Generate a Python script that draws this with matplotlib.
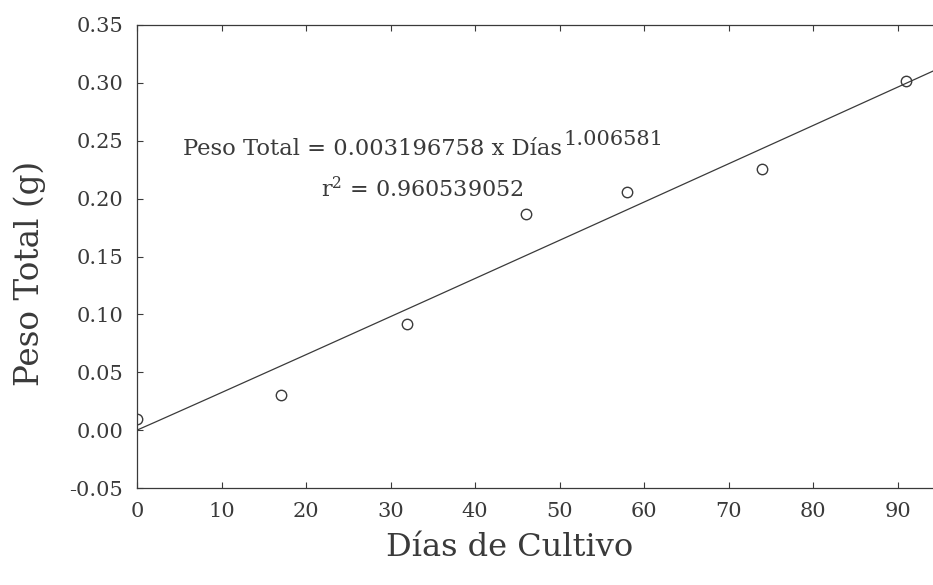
import numpy as np
import matplotlib
matplotlib.use("Agg")
import matplotlib.pyplot as plt

# data
dias = [0, 17, 32, 46, 58, 74, 91]
peso = [0.010, 0.030, 0.092, 0.187, 0.206, 0.226, 0.302]

# fitted power model shown on the chart
coef_a = 0.003196758
coef_b = 1.006581
r2 = 0.960539052

xticks = [0, 10, 20, 30, 40, 50, 60, 70, 80, 90]
yticks = [-0.05, 0.00, 0.05, 0.10, 0.15, 0.20, 0.25, 0.30, 0.35]

plt.rcParams['font.family'] = ['DejaVu Serif']
plt.rcParams['mathtext.fontset'] = 'dejavuserif'

ink = '#3a3a3a'

fig = plt.figure(figsize=(9.33, 5.85), dpi=100)
ax = fig.add_axes([137 / 933, 97 / 585, 803 / 933, 463 / 585])

# fit line
xfit = np.linspace(0, 95, 300)
ax.plot(xfit, coef_a * xfit ** coef_b, color=ink, lw=0.9)
ax.plot(dias, peso, 'o', mfc='none', mec=ink, mew=1.0, ms=7.5, clip_on=True)

ax.set_xlim(0, 95)
ax.set_ylim(-0.05, 0.35)
ax.set_xticks(xticks)
ax.set_yticks(yticks)
ax.set_xticklabels([str(t) for t in xticks])
ax.set_yticklabels([f"{t:.2f}" for t in yticks])
ax.tick_params(direction='in', length=4, width=0.8, colors=ink, labelsize=15,
               top=True, right=True, pad=10)
for s in ax.spines.values():
    s.set_color(ink)
    s.set_linewidth(0.9)

# equation text, exponent drawn as its own text right after "Días"
eq = ax.text(5.4, 0.2375, f"Peso Total = {coef_a} x Días",
             fontsize=16.3, color=ink, ha='left', va='baseline')
ax.annotate(f"{coef_b}", xy=(1.0, 0.0), xycoords=eq, xytext=(2, 15),
            textcoords='offset pixels', fontsize=15, color=ink,
            ha='left', va='baseline')
ax.text(33.8, 0.2015, f"r$^2$ = {r2}",
        fontsize=16, color=ink, ha='center', va='baseline')

fig.text(510 / 933, 1 - 548 / 585, "Días de Cultivo", fontsize=23, color=ink,
         ha='center', va='center')
fig.text(30 / 933, 1 - 273 / 585, "Peso Total (g)", fontsize=23.5, color=ink,
         ha='center', va='center', rotation=90)

fig.savefig("out.png", dpi=100)
